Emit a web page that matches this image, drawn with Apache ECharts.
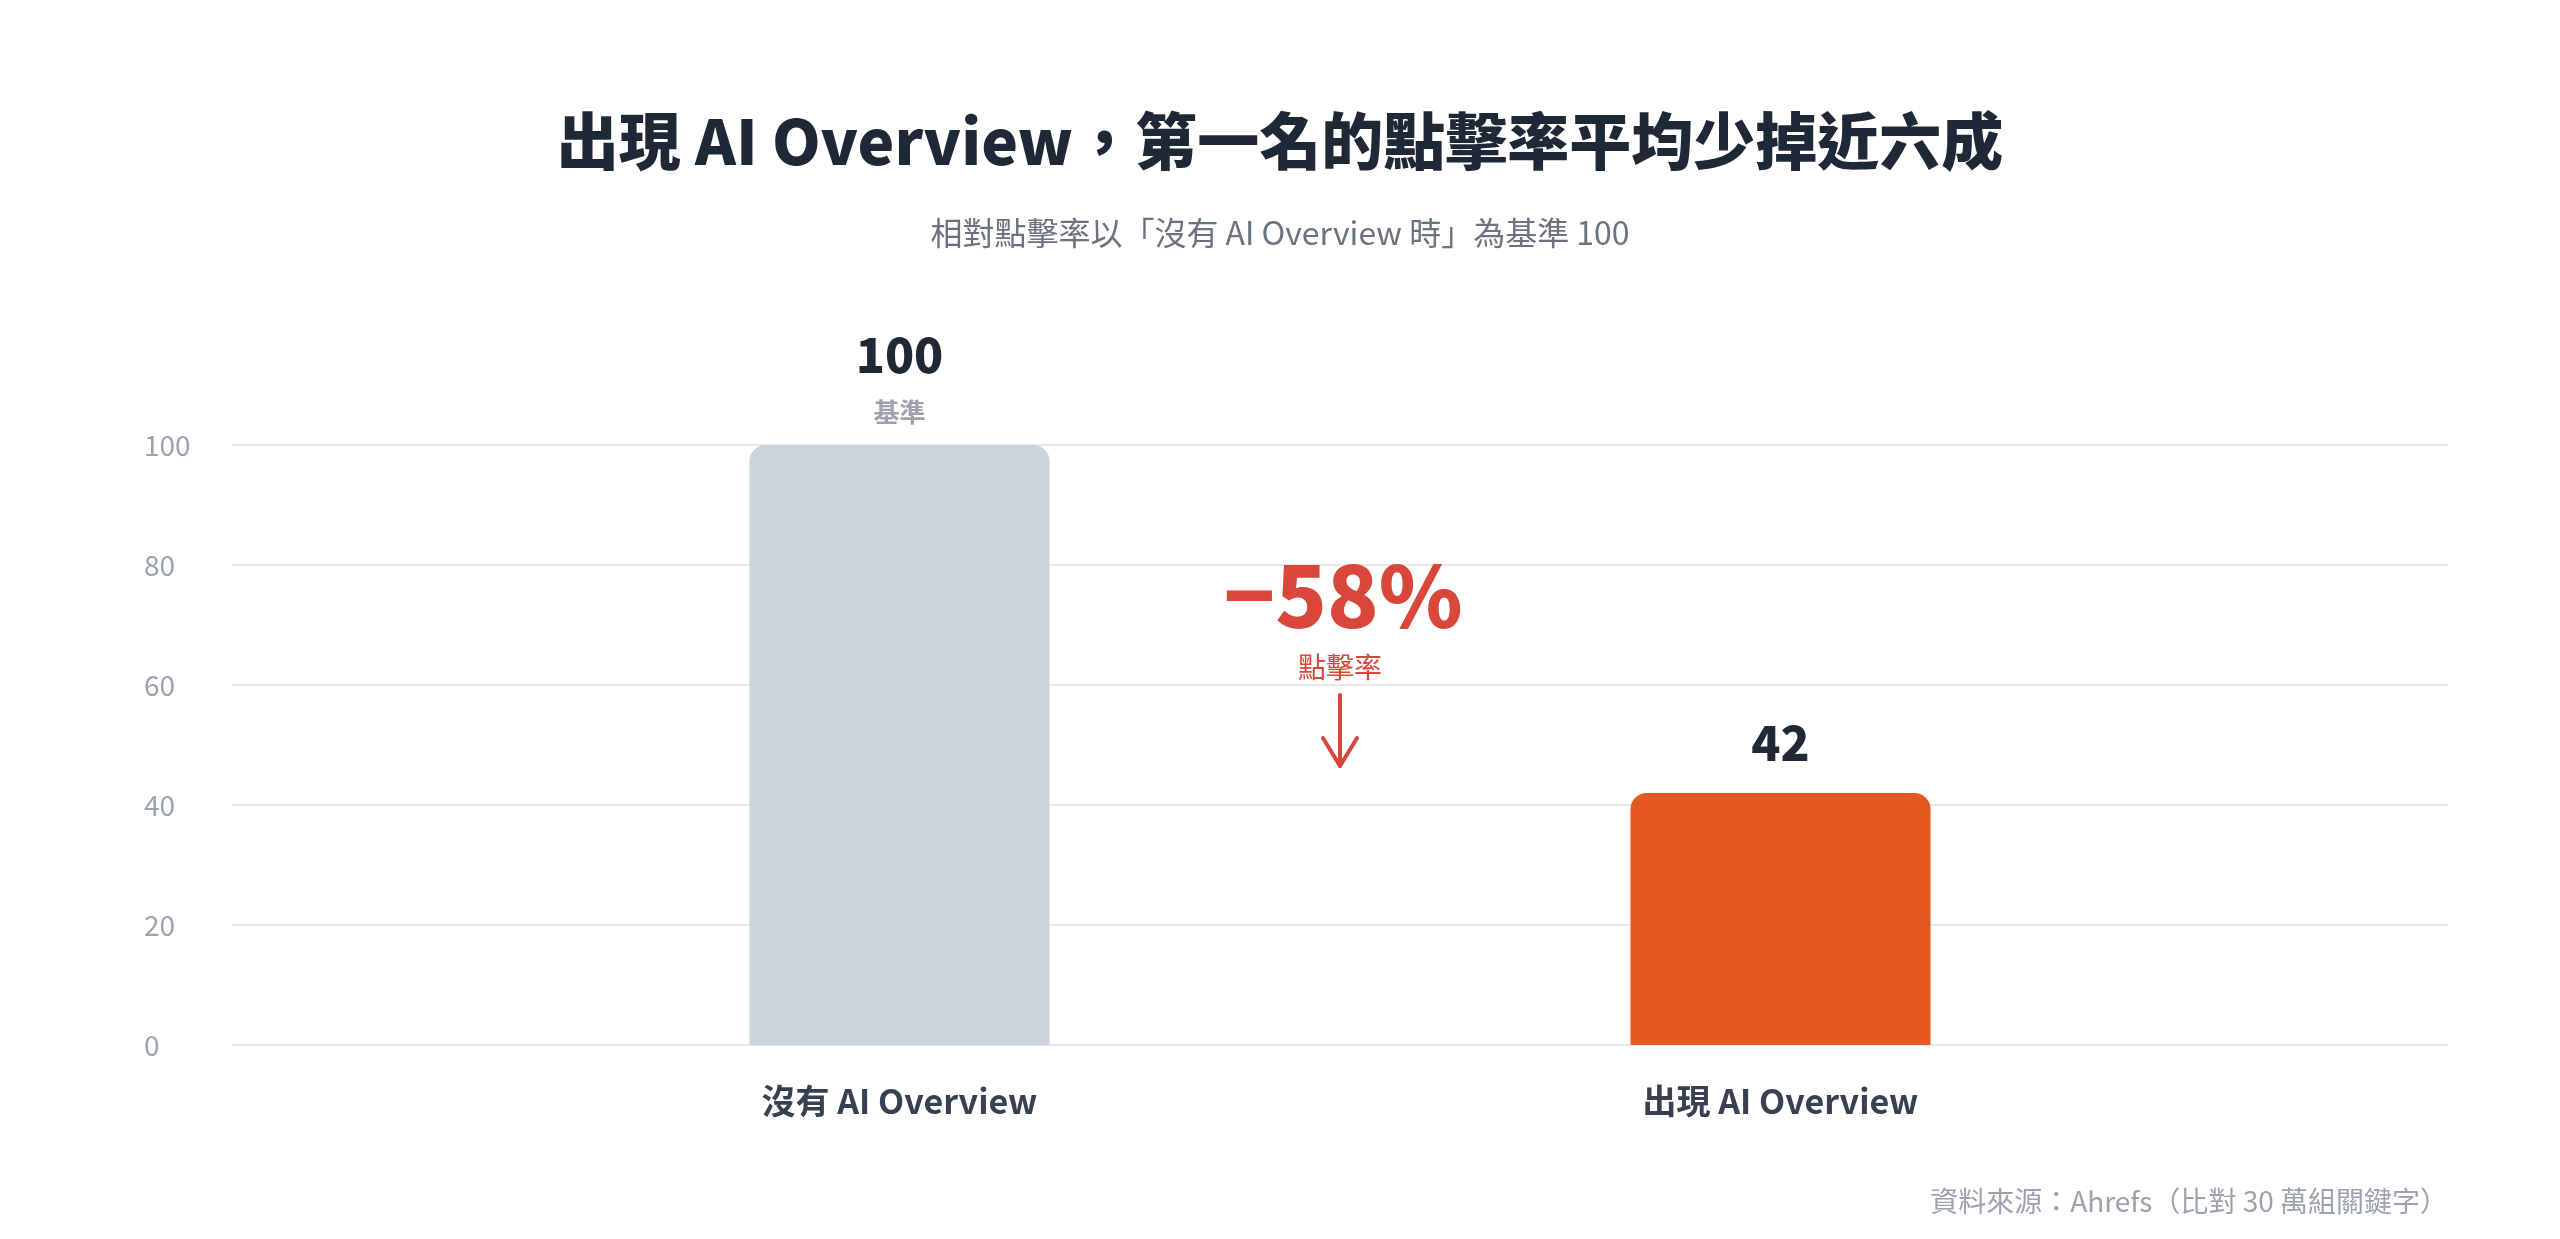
<!DOCTYPE html>
<html>
<head>
<meta charset="utf-8">
<title>AI Overview 點擊率</title>
<script src="https://cdn.jsdelivr.net/npm/echarts@6/dist/echarts.min.js"></script>
<style>
  html, body { margin: 0; padding: 0; background: #ffffff; }
  #chart { width: 2560px; height: 1239px; }
</style>
</head>
<body>
<div id="chart"></div>
<script>
// 資料
var categories = ['沒有 AI Overview', '出現 AI Overview'];
var ctrValues = [100, 42];
var barColors = ['#cbd3dd', '#e2581f'];
var barNotes = ['基準', ''];
var yTicks = [0, 20, 40, 60, 80, 100];

var FONT = "'Noto Sans CJK TC', 'Noto Sans', sans-serif";

// 相對變化（以第一根為基準）
var change = Math.round((ctrValues[1] - ctrValues[0]) / ctrValues[0] * 100);
var changeText = (change < 0 ? '\u2212' : '+') + Math.abs(change) + '%';

var barData = ctrValues.map(function (v, i) {
  return {
    value: v,
    itemStyle: { color: barColors[i], borderRadius: [16, 16, 0, 0] }
  };
});

var option = {
  backgroundColor: '#ffffff',
  animation: false,
  title: [{
    text: '出現 AI Overview，第一名的點擊率平均少掉近六成',
    left: 'center',
    top: 105,
    textStyle: { fontFamily: FONT, fontSize: 62, fontWeight: 900, color: '#1e2836' }
  }, {
    text: '相對點擊率以「沒有 AI Overview 時」為基準 100',
    left: 'center',
    top: 212,
    textStyle: { fontFamily: FONT, fontSize: 32, fontWeight: 'normal', color: '#6b7280' }
  }, {
    text: '資料來源：Ahrefs（比對 30 萬組關鍵字）',
    right: 107,
    top: 1182,
    textStyle: { fontFamily: FONT, fontSize: 28, fontWeight: 'normal', color: '#9ca3af' }
  }],
  grid: [
    { left: 232, right: 112, top: 445, bottom: 194 },
    { left: 459, right: 339, top: 445, bottom: 194 }
  ],
  xAxis: [{
    type: 'value', gridIndex: 0, show: false
  }, {
    type: 'category',
    gridIndex: 1,
    data: categories,
    axisLine: { show: false },
    axisTick: { show: false },
    axisLabel: {
      margin: 36,
      fontFamily: FONT, fontSize: 34, fontWeight: 'bold', color: '#374151', lineHeight: 40
    }
  }],
  yAxis: [{
    type: 'value',
    gridIndex: 0,
    min: yTicks[0],
    max: yTicks[yTicks.length - 1],
    interval: yTicks[1] - yTicks[0],
    axisLine: { show: false },
    axisTick: { show: false },
    splitLine: { lineStyle: { color: '#e5e7eb', width: 2 } },
    axisLabel: {
      align: 'left',
      margin: 88,
      fontFamily: FONT, fontSize: 28, color: '#9ca3af'
    }
  }, {
    type: 'value',
    gridIndex: 1,
    min: yTicks[0],
    max: yTicks[yTicks.length - 1],
    show: false
  }],
  series: [{
    type: 'bar',
    xAxisIndex: 1,
    yAxisIndex: 1,
    barWidth: 300,
    data: barData,
    label: {
      show: true,
      position: 'top',
      distance: 13,
      formatter: function (p) {
        var note = barNotes[p.dataIndex];
        return '{v|' + p.value + '}' + (note ? '\n{s|' + note + '}' : '');
      },
      rich: {
        v: { fontFamily: FONT, fontSize: 48, fontWeight: 900, color: '#1e2836', lineHeight: 74 },
        s: { fontFamily: FONT, fontSize: 26, fontWeight: 'bold', color: '#9ca3af', lineHeight: 40 }
      }
    }
  }]
};

var myChart = echarts.init(document.getElementById('chart'));
myChart.setOption(option);

// 兩根柱子之間的降幅標註
var p0 = myChart.convertToPixel({ xAxisIndex: 1 }, categories[0]);
var p1 = myChart.convertToPixel({ xAxisIndex: 1 }, categories[1]);
var midX = (p0 + p1) / 2;
var red = '#d9473b';
myChart.setOption({
  graphic: [{
    type: 'text',
    x: midX + 3, y: 596,
    style: {
      text: changeText, fill: red, font: '900 85px ' + FONT,
      align: 'center', verticalAlign: 'middle'
    }
  }, {
    type: 'text',
    x: midX, y: 667,
    style: {
      text: '點擊率', fill: red, font: 'normal 28px ' + FONT,
      align: 'center', verticalAlign: 'middle'
    }
  }, {
    type: 'polyline',
    shape: { points: [[midX, 695], [midX, 766]] },
    style: { stroke: red, lineWidth: 4, lineCap: 'round' }
  }, {
    type: 'polyline',
    shape: { points: [[midX - 17, 738], [midX, 766], [midX + 17, 738]] },
    style: { stroke: red, lineWidth: 4, lineCap: 'round', lineJoin: 'round', fill: null }
  }]
});
window.onresize = myChart.resize;
</script>
</body>
</html>
